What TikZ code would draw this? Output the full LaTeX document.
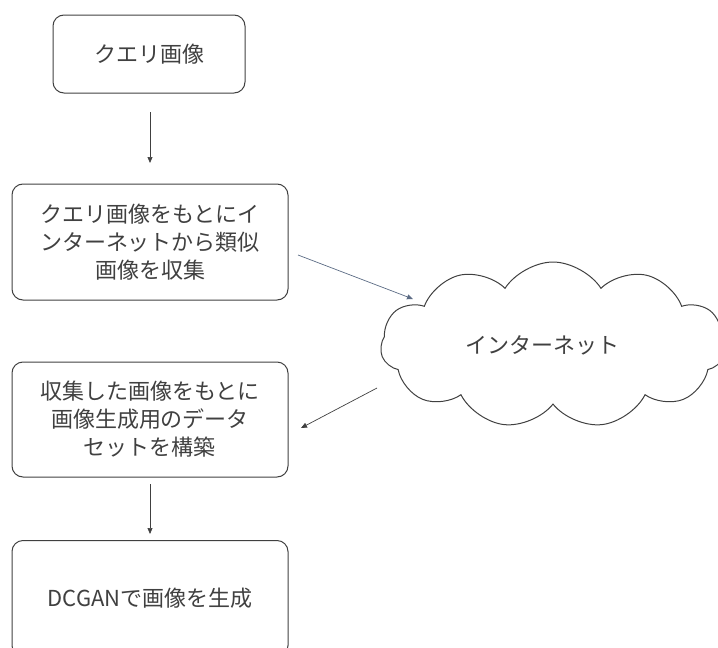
\documentclass[tikz,border=0pt]{standalone}
\usepackage{fontspec}
\newfontfamily\jp{Noto Sans CJK JP}
\usetikzlibrary{shapes.symbols,arrows.meta}
\definecolor{edge}{HTML}{404040}
\definecolor{txt}{HTML}{404040}
\definecolor{slate}{HTML}{5B6B84}
\begin{document}
\begin{tikzpicture}[x=1pt,y=-1pt,
  box/.style={draw=edge,line width=1pt,rounded corners=11pt,align=center,text=txt,
    font=\jp\fontsize{22}{28}\selectfont},
  conn/.style={line width=0.7pt,-{Triangle[length=6pt,width=5pt]}}]
\useasboundingbox (0,0) rectangle (718,648);
\clip (0,0) rectangle (718,648);
\node[box,minimum width=192pt,minimum height=78pt] (q) at (149,54) {クエリ画像};
\node[box,minimum width=276pt,minimum height=116pt] (c) at (150,242) {クエリ画像をもとにイ\\ンターネットから類似\\画像を収集};
\node[box,minimum width=276pt,minimum height=115pt] (d) at (150,419.5) {収集した画像をもとに\\画像生成用のデータ\\セットを構築};
\node[box,minimum width=276pt,minimum height=116pt,anchor=north] (g) at (150,540) {DCGANで画像を生成};
\node[cloud,draw=edge,line width=1pt,cloud puffs=11,cloud puff arc=115,cloud ignores aspect,
  minimum width=345pt,minimum height=166pt,text=txt,font=\jp\fontsize{22}{28}\selectfont,
  text depth=0pt] (net) at (553,345) {\hspace*{-22pt}インターネット};
\coordinate (q1) at (150,112);
\coordinate (q2) at (150,163);
\draw[conn,edge] (q1) -- (q2);
\coordinate (a1) at (298,255);
\coordinate (a2) at (413,299);
\draw[conn,slate] (a1) -- (a2);
\coordinate (b1) at (377,388);
\coordinate (b2) at (301,428);
\draw[conn,edge] (b1) -- (b2);
\coordinate (d1) at (150,484);
\coordinate (d2) at (150,534);
\draw[conn,edge] (d1) -- (d2);
\end{tikzpicture}
\end{document}
